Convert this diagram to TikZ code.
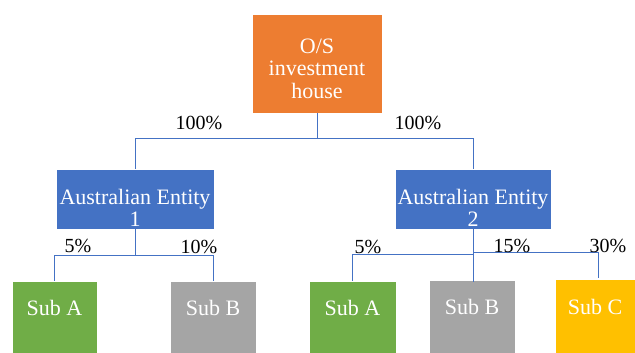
\documentclass[tikz,border=0pt]{standalone}
\usepackage{fontspec}
\setmainfont{Liberation Serif}
\usetikzlibrary{calc}
\definecolor{cOrange}{HTML}{ED7D31}
\definecolor{cBlue}{HTML}{4472C4}
\definecolor{cGreen}{HTML}{70AD47}
\definecolor{cGray}{HTML}{A5A5A5}
\definecolor{cGold}{HTML}{FFC000}
\tikzset{
  box/.style={rectangle, draw=white, line width=0.6pt, inner sep=0pt},
  boxtxt/.style={text=white, align=center, inner sep=0pt, font=\fontsize{22}{22.5}\selectfont},
  pct/.style={text=black, inner sep=0pt, font=\fontsize{20}{22}\selectfont},
  conn/.style={draw=cBlue, line width=1pt},
}
\begin{document}
\begin{tikzpicture}[x=1pt,y=-1pt]
\useasboundingbox[fill=white] (0,0) rectangle (635,353);
% boxes
\node[box, fill=cOrange, minimum width=130pt, minimum height=99pt] (os) at (317,63.5) {};
\node[box, fill=cBlue, minimum width=158pt, minimum height=60pt] (e1) at (135,199) {};
\node[box, fill=cBlue, minimum width=156pt, minimum height=60pt] (e2) at (473,199) {};
\node[box, fill=cGreen, minimum width=85pt, minimum height=76pt] (sa1) at (54.5,319) {};
\node[box, fill=cGray, minimum width=86pt, minimum height=76pt] (sb1) at (213,319) {};
\node[box, fill=cGreen, minimum width=87pt, minimum height=76pt] (sa2) at (352.5,319) {};
\node[box, fill=cGray, minimum width=86pt, minimum height=76pt] (sb2) at (472,318) {};
\node[box, fill=cGold, minimum width=80pt, minimum height=78pt] (sc) at (595,318) {};
% texts
\node[boxtxt] (tos) at (317,68.5) {O/S\\investment\\house};
\node[boxtxt] (te1) at (135,208) {Australian Entity\\1};
\node[boxtxt] (te2) at (473,208) {Australian Entity\\2};
\node[boxtxt] (tsa1) at (54.5,308) {Sub A};
\node[boxtxt] (tsb1) at (213,308) {Sub B};
\node[boxtxt] (tsa2) at (352.5,308) {Sub A};
\node[boxtxt] (tsb2) at (472,307) {Sub B};
\node[boxtxt] (tsc) at (595,307) {Sub C};
% connectors
\draw[conn] (os.south) -- ++(0,25) coordinate (j0) -| (e1.north);
\draw[conn] (j0) -| (e2.north);
\draw[conn] (e1.south) -- ++(0,26) coordinate (j1) -| (sa1.north);
\draw[conn] (j1) -| (sb1.north);
\draw[conn] (e2.south) -- ($(sb2.north)+(1,2)$);
\draw[conn] ($(e2.south)+(0,25)$) -| (sa2.north);
\draw[conn] ($(e2.south)+(0,23)$) -| ($(sc.north)+(3,-1)$);
% percentages
\node[pct] (p1) at (199,123) {100\%};
\node[pct] (p2) at (418,123) {100\%};
\node[pct] (p3) at (78,246) {5\%};
\node[pct] (p4) at (199,247) {10\%};
\node[pct] (p5) at (368,247) {5\%};
\node[pct] (p6) at (512,246) {15\%};
\node[pct] (p7) at (608,246) {30\%};
\end{tikzpicture}
\end{document}
